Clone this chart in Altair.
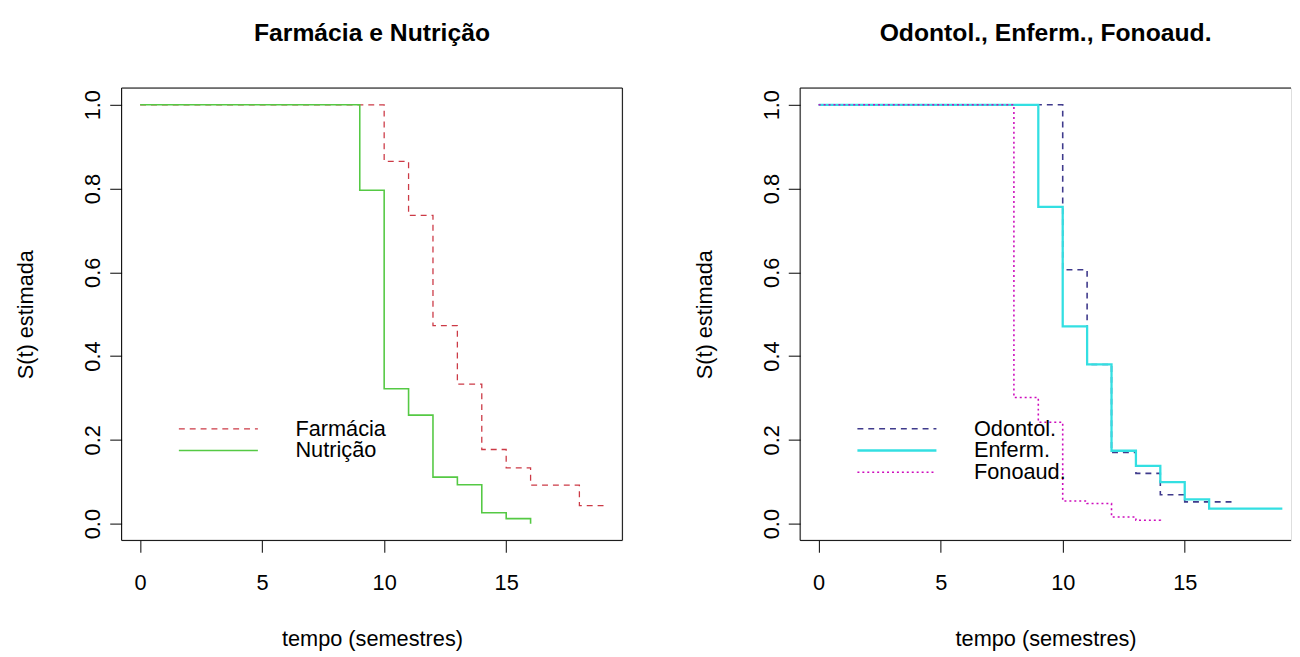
import altair as alt
import pandas as pd

# ---- data (Kaplan-Meier step curves) ----
far_t = [0, 10, 11, 12, 13, 14, 15, 16, 18, 19]
far_s = [1.0, 0.865, 0.736, 0.473, 0.333, 0.177, 0.133, 0.092, 0.043, 0.043]
nut_t = [0, 9, 10, 11, 12, 13, 14, 15, 16]
nut_s = [1.0, 0.796, 0.322, 0.259, 0.111, 0.093, 0.026, 0.012, 0.0]
odo_t = [0, 10, 11, 12, 13, 14, 15, 17]
odo_s = [1.0, 0.606, 0.380, 0.170, 0.120, 0.069, 0.052, 0.052]
enf_t = [0, 9, 10, 11, 12, 13, 14, 15, 16, 19]
enf_s = [1.0, 0.756, 0.471, 0.380, 0.174, 0.138, 0.099, 0.058, 0.036, 0.036]
fon_t = [0, 8, 9, 10, 11, 12, 13, 14]
fon_s = [1.0, 0.301, 0.242, 0.054, 0.048, 0.016, 0.008, 0.0]

x_ticks = [0, 5, 10, 15]
y_ticks = [0.0, 0.2, 0.4, 0.6, 0.8, 1.0]

left_title = "Farmácia e Nutrição"
right_title = "Odontol., Enferm., Fonoaud."
x_title = "tempo (semestres)"
y_title = "S(t) estimada"

FONT = "Liberation Sans"
FS = 22
TFS = 25
W_L, W_R, H = 507, 497, 458
PX_PER_UNIT = W_L / 20.52
X_MIN = -0.76
Y_DOM = [-0.04, 1.04]


def xenc(width):
    return alt.X(
        "t:Q",
        scale=alt.Scale(domain=[X_MIN, X_MIN + width / PX_PER_UNIT], nice=False, zero=False),
        axis=alt.Axis(
            values=x_ticks, grid=False, domain=False, tickColor="black", tickSize=12,
            labelFontSize=FS, labelColor="black", labelPadding=21, labelFont=FONT,
            title=x_title, titleFontSize=FS, titleFontWeight="normal", titleColor="black",
            titleFont=FONT, titleY=106, titleBaseline="alphabetic",
        ),
    )


def yenc():
    return alt.Y(
        "s:Q",
        scale=alt.Scale(domain=Y_DOM, nice=False, zero=False),
        axis=alt.Axis(
            values=y_ticks, format=".1f", grid=False, domain=False, tickColor="black",
            tickSize=12, labelFontSize=FS, labelColor="black", labelFont=FONT,
            labelAngle=270, labelAlign="center", labelBaseline="alphabetic", labelPadding=10,
            title=y_title, titleFontSize=FS, titleFontWeight="normal", titleColor="black",
            titleFont=FONT, titleX=-90, titleBaseline="alphabetic", titleAngle=270,
        ),
    )


def curve(ts, ss, color, dash, width, w):
    df = pd.DataFrame({"t": ts, "s": ss})
    kw = dict(interpolate="step-after", color=color, strokeWidth=width, clip=True)
    if dash:
        kw["strokeDash"] = dash
    return alt.Chart(df).mark_line(**kw).encode(x=xenc(w), y=yenc())


def frame(w, sides):
    one = pd.DataFrame({"a": [0]})
    layers = []
    if "top" in sides:
        layers.append(alt.Chart(one).mark_rule(color="black", strokeWidth=1).encode(
            x=alt.value(0), x2=alt.value(w), y=alt.value(0)))
    if "bottom" in sides:
        layers.append(alt.Chart(one).mark_rule(color="black", strokeWidth=1).encode(
            x=alt.value(0), x2=alt.value(w), y=alt.value(H)))
    if "left" in sides:
        layers.append(alt.Chart(one).mark_rule(color="black", strokeWidth=1).encode(
            x=alt.value(0), y=alt.value(0), y2=alt.value(H)))
    if "right" in sides:
        layers.append(alt.Chart(one).mark_rule(color="black", strokeWidth=1).encode(
            x=alt.value(w), y=alt.value(0), y2=alt.value(H)))
    return layers


def legend(names, styles):
    one = pd.DataFrame({"a": [0]})
    layers = []
    for i, (name, (color, dash, width)) in enumerate(zip(names, styles)):
        yy = 345 + 22 * i
        kw = dict(color=color, strokeWidth=width)
        if dash:
            kw["strokeDash"] = dash
        layers.append(alt.Chart(one).mark_rule(**kw).encode(
            x=alt.value(58), x2=alt.value(138), y=alt.value(yy)))
        layers.append(alt.Chart(one).mark_text(
            text=name, align="left", baseline="middle", fontSize=FS, font=FONT, color="black"
        ).encode(x=alt.value(176), y=alt.value(yy)))
    return layers


s_far = ("#CC3A46", [6, 5], 1.3)
s_nut = ("#55C944", None, 1.6)
s_odo = ("#3F3A8C", [6, 5], 1.6)
s_enf = ("#33DFE2", None, 2.3)
s_fon = ("#CD0BBC", [2, 3], 1.6)


def title(txt):
    return alt.TitleParams(txt, fontSize=TFS, fontWeight="bold", font=FONT, color="black",
                           anchor="middle", offset=22, baseline="alphabetic", frame="group")


left = alt.layer(
    *frame(W_L, ["top", "bottom", "left", "right"]),
    curve(far_t, far_s, *s_far, W_L),
    curve(nut_t, nut_s, *s_nut, W_L),
    *legend(["Farmácia", "Nutrição"], [s_far, s_nut]),
).properties(width=W_L, height=H, title=title(left_title))

right = alt.layer(
    *frame(W_R, ["top", "bottom", "left"]),
    curve(odo_t, odo_s, *s_odo, W_R),
    curve(enf_t, enf_s, *s_enf, W_R),
    curve(fon_t, fon_s, *s_fon, W_R),
    *legend(["Odontol.", "Enferm.", "Fonoaud."], [s_odo, s_enf, s_fon]),
).properties(width=W_R, height=H, title=title(right_title))

chart = alt.hconcat(left, right, spacing=180, bounds="flush").properties(
    padding={"left": 6, "top": 9, "right": 0, "bottom": 0},
    background="white",
).configure_view(stroke=None).configure(font=FONT)

chart.save("out.html", embed_options={"renderer": "svg", "actions": False})
